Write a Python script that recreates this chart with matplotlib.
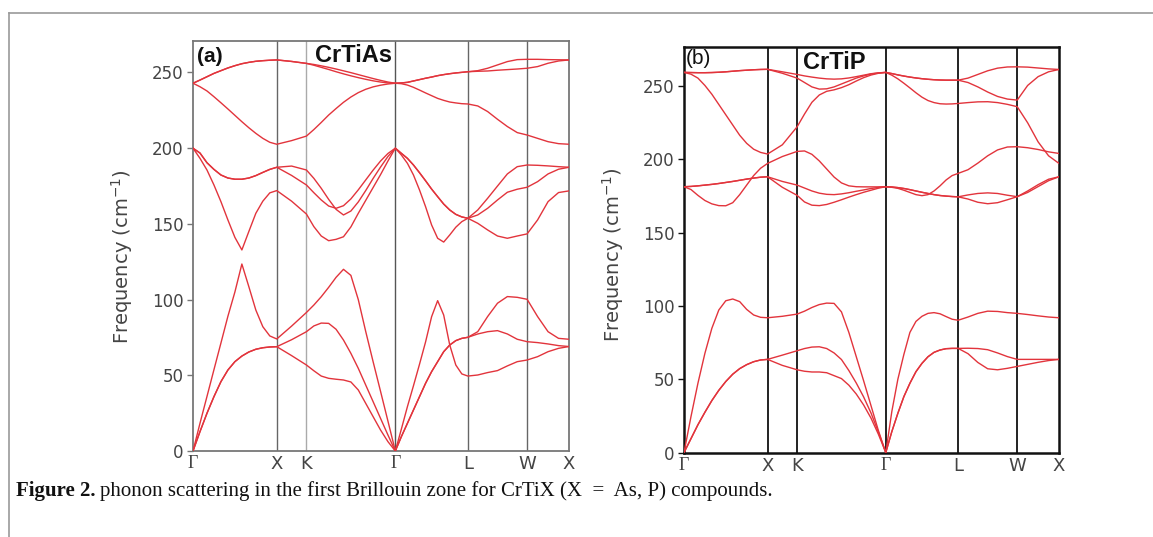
import numpy as np
import matplotlib
matplotlib.use("Agg")
import matplotlib.pyplot as plt
from matplotlib.lines import Line2D

# path G-X-K-G-L-W-X, segment lengths in 2pi/a units and samples per segment
seg_len = [1.0, 0.354, 1.061, 0.866, 0.707, 0.5]
seg_pts = [13, 3, 13, 13, 7, 5]
kpt_labels = ['Γ', 'X', 'K', 'Γ', 'L', 'W', 'X']
yticks = [0, 50, 100, 150, 200, 250]

# ---- CrTiAs (a), frequencies in cm^-1 along the path ----
a_t1a = [242.9, 245.0, 247.2, 249.4, 251.2, 253.0, 254.5, 255.8, 256.7, 257.4, 257.8, 258.1, 258.3,
         257.3, 256.0,
         255.3, 254.4, 253.4, 252.3, 251.1, 249.9, 248.6, 247.3, 246.0, 244.8, 243.7, 242.9,
         243.1, 243.5, 244.4, 245.3, 246.2, 247.0, 247.9, 248.6, 249.2, 249.7, 250.1, 250.5,
         251.2, 252.8, 255.0, 257.2, 258.5, 258.7,
         258.7, 258.5, 258.4, 258.3]
a_t1b = [242.9, 245.0, 247.2, 249.4, 251.2, 253.0, 254.5, 255.8, 256.7, 257.4, 257.8, 258.1, 258.3,
         257.3, 256.0,
         254.8, 253.4, 252.0, 250.5, 249.1, 247.8, 246.6, 245.5, 244.5, 243.7, 243.1, 242.9,
         243.1, 243.5, 244.4, 245.3, 246.2, 247.0, 247.9, 248.6, 249.2, 249.7, 250.1, 250.5,
         250.8, 251.0, 251.5, 251.9, 252.3, 252.8,
         253.9, 256.1, 257.6, 258.3]
a_t2 = [242.9, 240.6, 237.8, 234.0, 230.0, 225.9, 221.7, 217.5, 213.5, 209.8, 206.5, 203.9, 202.6,
        205.0, 208.0,
        212.3, 217.0, 221.9, 226.2, 230.3, 233.8, 236.7, 238.9, 240.5, 241.6, 242.4, 242.9,
        242.6, 241.7, 240.2, 238.4, 236.5, 234.7, 232.9, 231.6, 230.5, 229.9, 229.4, 229.2,
        227.9, 224.2, 219.1, 214.3, 210.3, 208.7,
        206.5, 204.3, 203.0, 202.6]
a_m1a = [200.0, 196.8, 190.4, 186.0, 182.3, 180.3, 179.5, 179.5, 180.3, 181.9, 184.0, 186.0, 187.4,
         188.2, 185.6,
         180.1, 173.5, 166.2, 159.6, 155.9, 158.5, 164.5, 172.0, 180.0, 187.5, 194.5, 200.0,
         196.6, 193.3, 188.9, 183.8, 178.5, 173.0, 168.0, 163.1, 159.2, 156.3, 154.6, 153.7,
         159.2, 166.9, 175.0, 183.0, 187.8, 188.9,
         188.7, 188.3, 187.8, 187.4]
a_m1b = [200.0, 196.8, 190.4, 186.0, 182.3, 180.3, 179.5, 179.5, 180.3, 181.9, 184.0, 186.0, 187.4,
         182.0, 175.7,
         170.6, 165.8, 161.8, 160.3, 162.0, 166.5, 172.5, 179.0, 185.5, 191.5, 196.5, 200.0,
         196.6, 193.3, 188.9, 183.8, 178.5, 173.0, 168.0, 163.1, 159.2, 156.3, 154.6, 153.7,
         155.9, 160.3, 165.8, 170.9, 172.9, 174.2,
         177.9, 183.0, 186.1, 187.4]
a_m2 = [200.0, 193.3, 185.6, 175.7, 164.7, 152.6, 141.1, 132.8, 145.0, 157.0, 165.0, 170.5, 172.0,
        165.0, 156.5,
        148.2, 142.0, 138.9, 139.8, 141.5, 148.0, 157.0, 165.5, 174.0, 182.5, 191.5, 200.0,
        195.5, 190.0, 182.3, 172.4, 161.4, 149.3, 140.5, 138.0, 142.7, 147.8, 151.5, 153.7,
        150.4, 146.0, 142.0, 140.5, 142.0, 143.4,
        152.6, 164.7, 170.7, 171.8]
a_a1 = [0.0, 12.8, 24.9, 35.9, 45.8, 53.5, 59.0, 62.7, 65.4, 67.2, 68.2, 68.7, 68.9,
        63.0, 56.8,
        53.0, 49.5, 48.0, 47.4, 46.9, 45.6, 40.3, 31.5, 22.7, 13.9, 6.2, 0.0,
        9.5, 18.3, 27.1, 35.9, 44.7, 52.4, 59.0, 65.6, 70.0, 72.9, 74.4, 75.1,
        77.3, 78.8, 79.5, 77.3, 73.8, 72.2,
        71.6, 70.7, 69.6, 69.0]
a_a2 = [0.0, 12.8, 24.9, 35.9, 45.8, 53.5, 59.0, 62.7, 65.4, 67.2, 68.2, 68.7, 68.9,
        73.5, 78.8,
        82.6, 84.5, 84.3, 80.4, 73.3, 64.5, 54.6, 43.6, 32.6, 21.6, 10.6, 0.0,
        9.5, 18.3, 27.1, 35.9, 44.7, 52.4, 59.0, 65.6, 70.0, 72.9, 74.4, 75.1,
        78.8, 88.8, 97.6, 102.0, 101.5, 100.2,
        88.8, 78.8, 74.4, 73.8]
a_a3 = [0.0, 18.3, 36.0, 53.7, 71.3, 89.0, 105.0, 123.5, 108.5, 93.1, 82.1, 76.0, 74.0,
        82.5, 91.5,
        96.4, 101.9, 108.1, 114.7, 120.0, 116.0, 100.0, 79.0, 59.0, 39.5, 19.8, 0.0,
        14.5, 29.3, 43.1, 57.3, 72.0, 88.7, 99.3, 89.8, 70.0, 56.8, 50.9, 49.5,
        50.2, 51.8, 53.1, 56.2, 59.0, 60.1,
        62.3, 65.6, 67.8, 69.0]

# ---- CrTiP (b) ----
b_t1a = [259.4, 259.3, 259.2, 259.2, 259.3, 259.5, 259.8, 260.2, 260.6, 260.9, 261.2, 261.4, 261.5,
         259.8, 258.0,
         257.0, 256.2, 255.5, 255.0, 254.8, 255.0, 255.6, 256.5, 257.5, 258.5, 259.1, 259.4,
         258.6, 257.7, 256.9, 256.2, 255.6, 255.1, 254.7, 254.4, 254.2, 254.1, 254.1, 254.1,
         255.5, 258.0, 260.5, 262.3, 263.1, 263.2,
         263.0, 262.4, 261.8, 261.4]
b_t1b = [259.4, 259.3, 259.2, 259.2, 259.3, 259.5, 259.8, 260.2, 260.6, 260.9, 261.2, 261.4, 261.5,
         258.8, 255.5,
         252.5, 249.5, 248.0, 248.2, 249.5, 251.5, 253.5, 255.5, 257.0, 258.3, 259.0, 259.4,
         258.6, 257.7, 256.9, 256.2, 255.6, 255.1, 254.7, 254.4, 254.2, 254.1, 254.1, 254.1,
         252.5, 249.5, 246.0, 243.0, 241.2, 240.5,
         250.5, 256.5, 259.8, 261.4]
b_t2 = [259.4, 258.2, 255.5, 250.5, 244.5, 237.5, 230.5, 223.5, 216.5, 211.0, 207.0, 204.8, 203.7,
        210.0, 222.3,
        231.0, 239.0, 244.0, 246.5, 247.5, 249.0, 251.0, 253.5, 255.8, 257.6, 258.8, 259.4,
        257.5, 255.0, 252.0, 248.8, 245.5, 242.5, 240.2, 238.8, 238.0, 237.8, 237.9, 238.2,
        238.8, 239.3, 239.4, 238.8, 237.6, 236.0,
        225.0, 212.0, 202.5, 197.3]
b_m1a = [181.4, 181.6, 182.0, 182.5, 183.0, 183.6, 184.3, 185.0, 185.8, 186.6, 187.3, 187.9, 188.2,
         185.0, 182.5,
         180.5, 178.5, 177.0, 176.2, 176.0, 176.5, 177.3, 178.3, 179.2, 180.2, 180.9, 181.4,
         181.2, 180.8, 180.2, 179.4, 178.5, 177.6, 176.8, 176.0, 175.4, 175.0, 174.7, 174.5,
         175.8, 176.8, 177.2, 176.8, 175.6, 174.6,
         177.5, 181.5, 185.5, 188.2]
b_m1b = [181.4, 181.6, 182.0, 182.5, 183.0, 183.6, 184.3, 185.0, 185.8, 186.6, 187.3, 187.9, 188.2,
         181.0, 175.5,
         171.0, 168.8, 168.5, 169.3, 170.8, 172.5, 174.3, 176.0, 177.6, 179.0, 180.4, 181.4,
         181.2, 180.8, 180.2, 179.4, 178.5, 177.6, 176.8, 176.0, 175.4, 175.0, 174.7, 174.5,
         173.0, 170.8, 169.8, 170.5, 172.5, 174.6,
         178.5, 182.8, 186.5, 188.2]
b_m2 = [181.4, 179.5, 175.5, 172.0, 169.7, 168.5, 168.4, 170.5, 176.0, 182.5, 189.0, 194.0, 197.3,
        202.0, 205.5,
        205.8, 203.5, 199.0, 193.5, 188.0, 184.0, 182.0, 181.4, 181.3, 181.3, 181.3, 181.4,
        181.0, 180.3, 179.0, 177.5, 176.0, 175.3, 176.0, 178.5, 182.0, 186.0, 189.0, 190.5,
        193.0, 197.5, 202.5, 206.5, 208.5, 208.7,
        208.0, 206.8, 205.2, 204.1]
b_a1 = [0.0, 9.5, 19.0, 27.5, 35.5, 42.5, 48.5, 53.5, 57.3, 60.0, 62.0, 63.2, 63.6,
        66.5, 69.5,
        71.0, 72.0, 72.2, 71.0, 68.0, 63.5, 56.0, 47.5, 38.0, 27.0, 14.0, 0.0,
        14.3, 26.8, 38.2, 47.3, 55.2, 60.9, 65.4, 68.4, 70.0, 70.9, 71.1, 71.1,
        71.2, 71.0, 70.2, 68.0, 65.5, 63.6,
        63.6, 63.6, 63.6, 63.6]
b_a2 = [0.0, 9.5, 19.0, 27.5, 35.5, 42.5, 48.5, 53.5, 57.3, 60.0, 62.0, 63.2, 63.6,
        59.5, 56.5,
        55.5, 55.0, 55.0, 54.5, 52.5, 50.5, 46.0, 40.0, 32.5, 23.5, 12.5, 0.0,
        14.3, 26.8, 38.2, 47.3, 55.2, 60.9, 65.4, 68.4, 70.0, 70.9, 71.1, 71.1,
        67.5, 61.5, 57.2, 56.5, 57.5, 58.8,
        60.2, 61.6, 62.8, 63.6]
b_a3 = [0.0, 24.5, 47.3, 67.7, 84.8, 97.3, 103.6, 104.8, 103.0, 97.7, 93.9, 92.3, 92.0,
        93.0, 94.5,
        96.5, 99.0, 101.0, 102.0, 101.8, 96.0, 82.0, 65.5, 49.0, 32.0, 15.0, 0.0,
        28.0, 50.0, 67.0, 82.0, 89.5, 93.0, 95.0, 95.5, 94.7, 92.8, 91.0, 90.3,
        92.5, 95.0, 96.5, 96.3, 95.5, 95.0,
        94.2, 93.3, 92.5, 92.0]

bands_a = [a_t1a, a_t1b, a_t2, a_m1a, a_m1b, a_m2, a_a1, a_a2, a_a3]
bands_b = [b_t1a, b_t1b, b_t2, b_m1a, b_m1b, b_m2, b_a1, b_a2, b_a3]

RED = '#e2343c'
W, H = 1153, 537


def path_grid():
    nodes = np.concatenate([[0.0], np.cumsum(seg_len)])
    parts = [np.linspace(nodes[i], nodes[i + 1], n) for i, n in enumerate(seg_pts)]
    k = np.concatenate([parts[0]] + [p[1:] for p in parts[1:]])
    return nodes, k


def draw_panel(ax, bands, ymax, spine_col, spine_lw, vcols, vlw, tag, tag_bold, tag_xy, name, name_xy):
    nodes, k = path_grid()
    for b in bands:
        ax.plot(k, b, color=RED, lw=1.0, zorder=3)
    for x, c in zip(nodes[1:-1], vcols):
        ax.axvline(x, color=c, lw=vlw, zorder=2)
    ax.set_xlim(nodes[0], nodes[-1])
    ax.set_ylim(0, ymax)
    for s in ax.spines.values():
        s.set_color(spine_col)
        s.set_linewidth(spine_lw)
    ax.set_yticks(yticks)
    ax.tick_params(axis='y', direction='out', length=4, width=1, color=spine_col,
                   labelsize=12, labelcolor='#444444', pad=3)
    ax.set_xticks(nodes)
    ax.set_xticklabels(kpt_labels)
    ax.tick_params(axis='x', length=0, labelsize=13, labelcolor='#444444', pad=3)
    for lab in ax.get_xticklabels():
        if lab.get_text() == 'Γ':
            lab.set_fontfamily('Liberation Serif')
    ax.set_ylabel('Frequency (cm$^{-1}$)', fontsize=14, color='#444444')
    ax.text(tag_xy[0], tag_xy[1], tag, transform=ax.transAxes, fontsize=15,
            fontweight='bold' if tag_bold else 'normal', family='Liberation Sans',
            ha='left', va='baseline', color='#111111')
    ax.text(name_xy[0], name_xy[1], name, transform=ax.transAxes, fontsize=17,
            fontweight='bold', family='Liberation Sans', ha='center', va='baseline',
            color='#111111', zorder=4)


fig = plt.figure(figsize=(W / 100, H / 100), dpi=100)
fig.patch.set_facecolor('white')

ax_a = fig.add_axes([193 / W, 1 - 451 / H, 376 / W, 410 / H])
draw_panel(ax_a, bands_a, 270.8, '#777777', 1.3,
           ['#666666', '#aaaaaa', '#555555', '#666666', '#666666'], 1.0,
           '(a)', True, (0.01, 0.948), 'CrTiAs', (0.427, 0.95))
ax_a.yaxis.set_label_coords(-0.153, 0.475)

ax_b = fig.add_axes([684 / W, 1 - 452.6 / H, 375 / W, 406 / H])
draw_panel(ax_b, bands_b, 277, '#111111', 1.8,
           ['#111111'] * 5, 1.3,
           '(b)', False, (0.005, 0.958), 'CrTiP', (0.40, 0.946))
ax_b.yaxis.set_label_coords(-0.155, 0.487)

# outer frame of the figure box
fig.add_artist(Line2D([9 / W, 1.0], [1 - 13 / H, 1 - 13 / H], color='#9a9a9a', lw=1.2))
fig.add_artist(Line2D([9 / W, 9 / W], [1 - 13 / H, 0.0], color='#9a9a9a', lw=1.2))

# caption
cap_y = 1 - 496 / H
t1 = fig.text(16 / W, cap_y, 'Figure 2.', fontsize=15, fontweight='bold',
              family='Liberation Serif', va='baseline', color='#111111')
fig.canvas.draw()
bb = t1.get_window_extent()
fig.text((bb.x1 + 4) / W, cap_y,
         'phonon scattering in the first Brillouin zone for CrTiX (X  =  As, P) compounds.',
         fontsize=15, family='Liberation Serif', va='baseline', color='#111111')

fig.savefig('out.png', dpi=100, facecolor='white')
